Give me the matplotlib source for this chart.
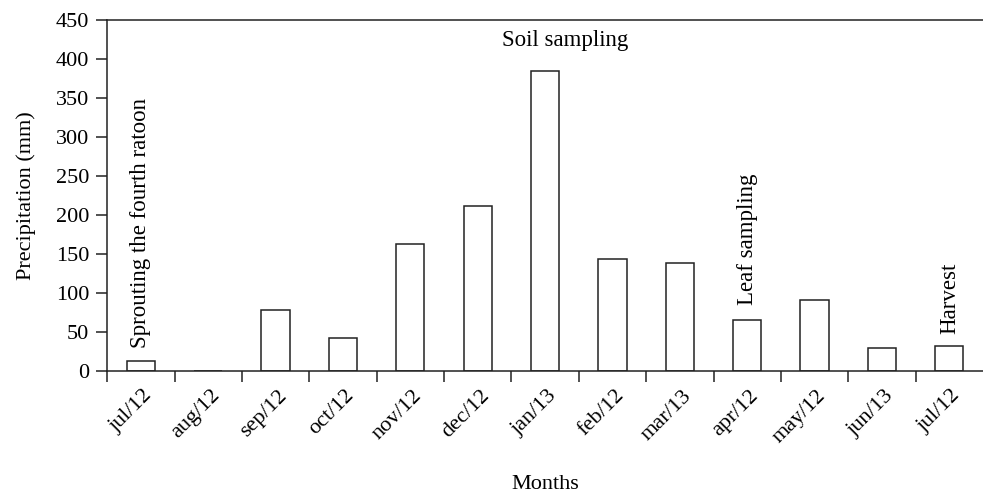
import numpy as np
import matplotlib
matplotlib.use("Agg")
import matplotlib.pyplot as plt
from matplotlib.transforms import ScaledTranslation

months = ["jul/12", "aug/12", "sep/12", "oct/12", "nov/12", "dec/12", "jan/13",
          "feb/12", "mar/13", "apr/12", "may/12", "jun/13", "jul/12"]
precip = [13, 0, 78, 42, 163, 212, 384, 144, 139, 65, 91, 30, 32]

# (category index, text, y position, rotation)
events = [(0, "Sprouting the fourth ratoon", 29, 90),
          (6, "Soil sampling", 410, 0),
          (9, "Leaf sampling", 84, 90),
          (12, "Harvest", 48, 90)]

plt.rcParams['font.family'] = ['Liberation Serif', 'DejaVu Serif']
plt.rcParams['font.size'] = 16

fig = plt.figure(figsize=(9.83, 4.93), dpi=100)
ax = fig.add_axes([0.109, 0.2475, 0.891, 0.712])

x = np.arange(len(months))
ax.bar(x, precip, width=0.42, color="white", edgecolor="#222222", linewidth=1.1)

ax.set_xlim(-0.5, len(months) - 0.5)
ax.set_ylim(0, 450)
ax.set_yticks(np.arange(0, 451, 50))

# labels in the middle, tick marks on the category boundaries
ax.set_xticks(x)
ax.set_xticklabels(months, rotation=45, ha="right", va="top", rotation_mode="anchor")
ax.tick_params(axis="x", which="major", length=0, pad=11)
ax.set_xticks(np.arange(-0.5, len(months) - 1), minor=True)
ax.tick_params(axis="x", which="minor", length=8, width=1.1, color="#222222", direction="out")
ax.tick_params(axis="y", length=8, width=1.1, color="#222222", direction="out", pad=5)
offset = ScaledTranslation(2 / 100, 0, fig.dpi_scale_trans)
for lab in ax.get_xticklabels():
    lab.set_transform(lab.get_transform() + offset)

ax.spines["right"].set_visible(False)
for s in ["left", "top", "bottom"]:
    ax.spines[s].set_linewidth(1.1)
    ax.spines[s].set_color("#222222")

for i, txt, yv, rot in events:
    if rot == 90:
        ax.text(i, yv, txt, rotation=90, ha="center", va="bottom", fontsize=16.5)
    else:
        ax.text(i + 0.3, yv, txt, ha="center", va="bottom", fontsize=16.5)

ax.set_ylabel("Precipitation (mm)", fontsize=16, labelpad=14)
ax.set_xlabel("Months", fontsize=16, labelpad=20)

fig.savefig("out.png", dpi=100)
